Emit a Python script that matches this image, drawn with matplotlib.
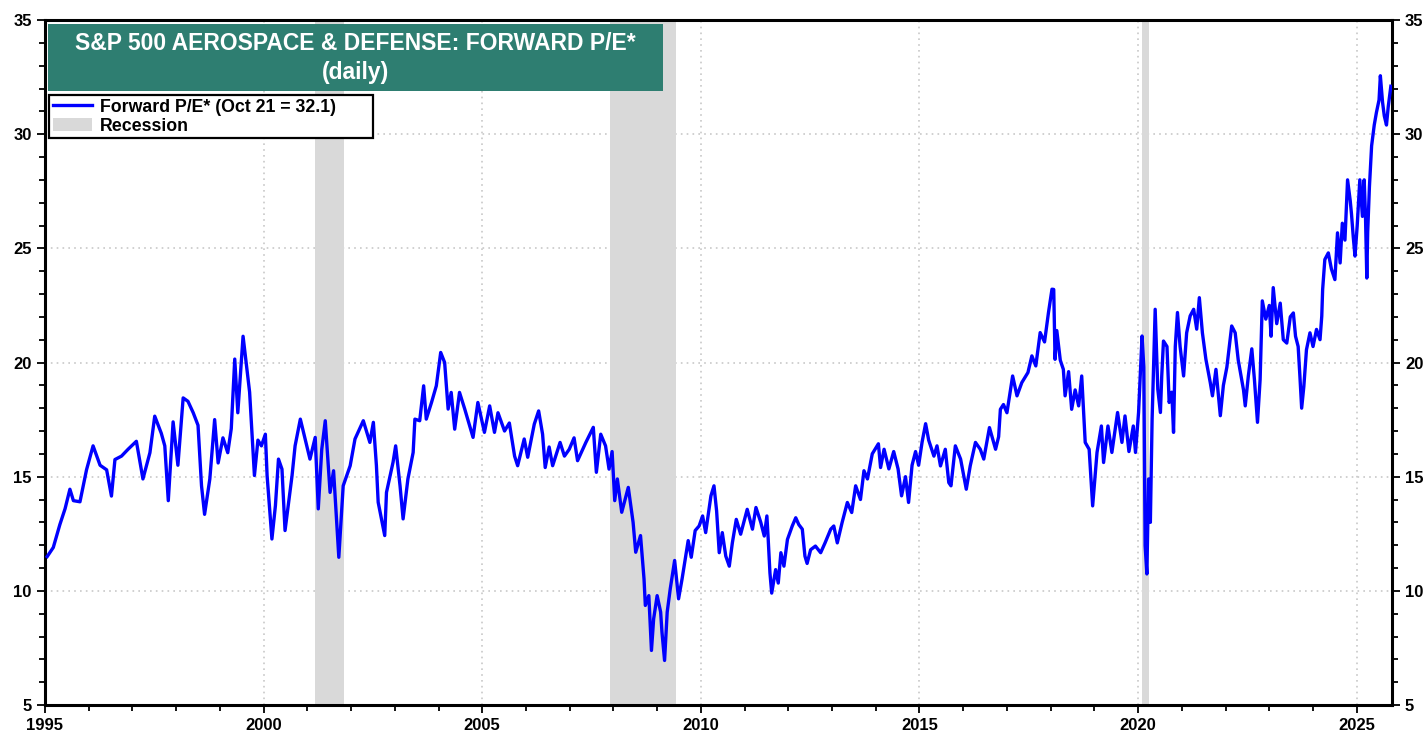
import matplotlib
matplotlib.use('Agg')
import matplotlib.pyplot as plt
from matplotlib.patches import Rectangle, Patch
from matplotlib.lines import Line2D
from matplotlib.ticker import MultipleLocator


plt.rcParams['font.family'] = ['Liberation Sans', 'DejaVu Sans']
plt.rcParams['font.weight'] = 'bold'

TITLE_LINE1 = 'S&P 500 AEROSPACE & DEFENSE: FORWARD P/E*'
TITLE_LINE2 = '(daily)'
LINE_LABEL = 'Forward P/E* (Oct 21 = 32.1)'
SHADE_LABEL = 'Recession'

# recession periods (decimal years)
REC_START = [2001.17, 2007.92, 2020.08]
REC_END = [2001.83, 2009.42, 2020.25]

# forward P/E readings (decimal year, value)
YEARS = [
    1995.05, 1995.19, 1995.34, 1995.46, 1995.57, 1995.65, 1995.80, 1995.95,
    1996.10, 1996.26, 1996.41, 1996.52, 1996.60, 1996.75, 1996.90, 1997.09,
    1997.24, 1997.40, 1997.51, 1997.66, 1997.74, 1997.82, 1997.93, 1998.04,
    1998.16, 1998.27, 1998.39, 1998.50, 1998.58, 1998.65, 1998.77, 1998.88,
    1998.96, 1999.07, 1999.18, 1999.26, 1999.34, 1999.41, 1999.53, 1999.60,
    1999.68, 1999.79, 1999.87, 1999.95, 2000.04, 2000.08, 2000.19, 2000.27,
    2000.34, 2000.42, 2000.49, 2000.65, 2000.72, 2000.84, 2000.95, 2001.06,
    2001.18, 2001.25, 2001.33, 2001.41, 2001.52, 2001.60, 2001.72, 2001.82,
    2001.98, 2002.09, 2002.28, 2002.43, 2002.51, 2002.58, 2002.62, 2002.77,
    2002.81, 2002.96, 2003.02, 2003.12, 2003.19, 2003.30, 2003.42, 2003.46,
    2003.57, 2003.66, 2003.72, 2003.84, 2003.95, 2004.05, 2004.14, 2004.22,
    2004.29, 2004.37, 2004.48, 2004.60, 2004.79, 2004.90, 2005.05, 2005.17,
    2005.28, 2005.36, 2005.51, 2005.62, 2005.74, 2005.81, 2005.96, 2006.04,
    2006.19, 2006.29, 2006.38, 2006.44, 2006.53, 2006.61, 2006.78, 2006.88,
    2006.99, 2007.10, 2007.18, 2007.37, 2007.54, 2007.61, 2007.71, 2007.82,
    2007.90, 2007.97, 2008.03, 2008.09, 2008.19, 2008.34, 2008.45, 2008.51,
    2008.62, 2008.70, 2008.73, 2008.81, 2008.87, 2008.92, 2009.00, 2009.08,
    2009.11, 2009.17, 2009.23, 2009.30, 2009.40, 2009.49, 2009.57, 2009.71,
    2009.78, 2009.87, 2009.96, 2010.04, 2010.11, 2010.23, 2010.30, 2010.36,
    2010.42, 2010.49, 2010.57, 2010.65, 2010.72, 2010.81, 2010.91, 2011.06,
    2011.18, 2011.26, 2011.37, 2011.45, 2011.51, 2011.54, 2011.58, 2011.62,
    2011.71, 2011.77, 2011.83, 2011.90, 2011.98, 2012.09, 2012.17, 2012.24,
    2012.32, 2012.38, 2012.43, 2012.51, 2012.62, 2012.74, 2012.84, 2012.97,
    2013.04, 2013.12, 2013.23, 2013.35, 2013.45, 2013.54, 2013.65, 2013.73,
    2013.81, 2013.92, 2014.06, 2014.11, 2014.19, 2014.30, 2014.41, 2014.51,
    2014.59, 2014.68, 2014.75, 2014.83, 2014.91, 2014.98, 2015.06, 2015.14,
    2015.21, 2015.33, 2015.40, 2015.48, 2015.59, 2015.67, 2015.72, 2015.82,
    2015.94, 2016.07, 2016.16, 2016.28, 2016.39, 2016.47, 2016.60, 2016.74,
    2016.81, 2016.85, 2016.92, 2017.00, 2017.13, 2017.23, 2017.34, 2017.48,
    2017.57, 2017.66, 2017.76, 2017.86, 2017.95, 2018.03, 2018.07, 2018.10,
    2018.14, 2018.22, 2018.29, 2018.33, 2018.41, 2018.48, 2018.56, 2018.64,
    2018.71, 2018.79, 2018.88, 2018.96, 2019.06, 2019.16, 2019.21, 2019.31,
    2019.40, 2019.53, 2019.63, 2019.70, 2019.79, 2019.89, 2019.94, 2020.01,
    2020.09, 2020.13, 2020.16, 2020.20, 2020.24, 2020.28, 2020.32, 2020.39,
    2020.45, 2020.51, 2020.54, 2020.58, 2020.66, 2020.71, 2020.77, 2020.81,
    2020.85, 2020.90, 2020.96, 2021.04, 2021.11, 2021.19, 2021.27, 2021.34,
    2021.40, 2021.47, 2021.55, 2021.65, 2021.70, 2021.78, 2021.88, 2021.95,
    2022.03, 2022.14, 2022.22, 2022.29, 2022.41, 2022.45, 2022.52, 2022.60,
    2022.66, 2022.73, 2022.79, 2022.84, 2022.92, 2023.00, 2023.04, 2023.09,
    2023.17, 2023.25, 2023.32, 2023.40, 2023.48, 2023.55, 2023.60, 2023.66,
    2023.70, 2023.74, 2023.79, 2023.85, 2023.93, 2024.00, 2024.08, 2024.16,
    2024.20, 2024.22, 2024.27, 2024.35, 2024.42, 2024.50, 2024.56, 2024.62,
    2024.67, 2024.73, 2024.79, 2024.85, 2024.88, 2024.92, 2024.96, 2025.01,
    2025.07, 2025.13, 2025.17, 2025.20, 2025.23, 2025.25, 2025.29, 2025.34,
    2025.40, 2025.45, 2025.51, 2025.54, 2025.59, 2025.63, 2025.68, 2025.72,
    2025.78,
]

PE = [
    11.5, 11.9, 12.9, 13.6, 14.45, 13.95, 13.9, 15.3,
    16.35, 15.5, 15.3, 14.15, 15.75, 15.9, 16.2, 16.55,
    14.9, 16.05, 17.65, 16.9, 16.35, 13.95, 17.4, 15.5,
    18.45, 18.3, 17.8, 17.25, 14.6, 13.35, 14.9, 17.5,
    15.6, 16.7, 16.05, 17.1, 20.15, 17.8, 21.15, 20.0,
    18.7, 15.05, 16.6, 16.35, 16.86, 15.04, 12.27, 13.73,
    15.77, 15.33, 12.64, 15.04, 16.35, 17.52, 16.65, 15.77,
    16.72, 13.59, 16.2, 17.45, 14.31, 15.26, 11.47, 14.6,
    15.48, 16.65, 17.45, 16.5, 17.38, 15.48, 13.88, 12.42,
    14.31, 15.63, 16.35, 14.6, 13.15, 14.9, 16.06, 17.52,
    17.45, 18.98, 17.52, 18.25, 18.98, 20.44, 20.0, 17.96,
    18.69, 17.08, 18.69, 17.96, 16.72, 18.25, 16.94, 18.1,
    16.94, 17.8, 17.0, 17.35, 15.9, 15.48, 16.65, 15.85,
    17.3, 17.88, 16.86, 15.4, 16.3, 15.48, 16.5, 15.9,
    16.2, 16.7, 15.7, 16.5, 17.16, 15.19, 16.86, 16.35,
    15.33, 16.1, 13.95, 14.9, 13.44, 14.53, 13.0, 11.69,
    12.42, 10.52, 9.36, 9.79, 7.39, 8.77, 9.79, 9.07,
    8.2, 6.95, 9.07, 10.09, 11.33, 9.65, 10.52, 12.2,
    11.47, 12.64, 12.84, 13.28, 12.55, 14.16, 14.6, 13.5,
    11.67, 12.55, 11.52, 11.08, 12.1, 13.13, 12.48, 13.57,
    12.7, 13.65, 13.0, 12.4, 13.28, 12.26, 10.78, 9.9,
    10.93, 10.34, 11.67, 11.08, 12.25, 12.84, 13.2, 12.9,
    12.7, 11.52, 11.2, 11.8, 11.96, 11.67, 12.1, 12.7,
    12.84, 12.1, 12.99, 13.87, 13.43, 14.6, 14.0, 15.26,
    14.9, 16.0, 16.44, 15.4, 16.2, 15.34, 16.1, 15.34,
    14.16, 15.0, 13.87, 15.5, 16.1, 15.5, 16.52, 17.32,
    16.6, 15.9, 16.35, 15.47, 16.2, 14.74, 14.6, 16.35,
    15.77, 14.45, 15.47, 16.5, 16.2, 15.77, 17.15, 16.2,
    16.75, 17.95, 18.16, 17.8, 19.41, 18.54, 19.12, 19.56,
    20.29, 19.85, 21.31, 20.9, 22.19, 23.21, 23.2, 20.14,
    21.4, 20.1, 19.7, 18.54, 19.6, 17.95, 18.8, 18.1,
    19.41, 16.5, 16.2, 13.72, 16.06, 17.22, 15.62, 17.22,
    16.06, 17.81, 16.5, 17.66, 16.1, 17.22, 16.06, 17.81,
    21.16, 19.8, 11.98, 10.74, 14.9, 13.0, 17.52, 22.33,
    18.83, 17.81, 19.4, 20.94, 20.7, 18.25, 18.7, 16.94,
    20.7, 22.19, 20.7, 19.41, 21.3, 22.04, 22.33, 21.46,
    22.84, 21.3, 20.14, 19.12, 18.54, 19.7, 17.67, 19.0,
    19.8, 21.6, 21.3, 20.1, 18.8, 18.1, 19.4, 20.6,
    19.25, 17.38, 19.25, 22.7, 21.9, 22.5, 21.15, 23.28,
    21.7, 22.6, 21.0, 20.85, 22.0, 22.17, 21.15, 20.7,
    19.4, 18.0, 18.95, 20.56, 21.3, 20.7, 21.45, 21.0,
    22.03, 23.2, 24.51, 24.8, 24.1, 23.63, 25.68, 24.36,
    26.1, 25.36, 28.0, 27.1, 26.5, 25.5, 24.66, 25.98,
    28.0, 26.4, 28.0, 26.4, 23.7, 25.7, 27.7, 29.49,
    30.4, 30.95, 31.5, 32.56, 31.4, 30.8, 30.4, 31.2,
    32.1,
]

LINE_COLOR = '#0000FF'
SHADE_COLOR = '#D9D9D9'
BOX_COLOR = '#2E7E71'


def style_axes(ax):
    ax.set_xlim(1995, 2025.8)
    ax.set_ylim(5, 35)
    ax.xaxis.set_major_locator(MultipleLocator(5))
    ax.xaxis.set_minor_locator(MultipleLocator(1))
    ax.yaxis.set_major_locator(MultipleLocator(5))
    ax.yaxis.set_minor_locator(MultipleLocator(1))
    ax.tick_params(which='both', direction='out', width=1.3, labelsize=12,
                   left=True, right=True, labelleft=True, labelright=True,
                   top=False, bottom=True)
    ax.tick_params(which='major', length=6)
    ax.tick_params(which='minor', length=4)
    for lbl in ax.get_xticklabels() + ax.get_yticklabels():
        lbl.set_fontweight('bold')
    for sp in ax.spines.values():
        sp.set_linewidth(2.2)
    ax.grid(True, which='major', color='#C8C8C8', linestyle=(0, (1, 2.5)), linewidth=1.2)
    ax.set_axisbelow(True)


def main():
    fig = plt.figure(figsize=(14.28, 7.33), dpi=100)
    ax = fig.add_axes([0.0315, 0.0382, 0.9431, 0.9345])

    for s, e in zip(REC_START, REC_END):
        ax.axvspan(s, e, color=SHADE_COLOR, lw=0, zorder=1)

    ax.plot(YEARS, PE, color=LINE_COLOR, lw=2.4, zorder=3)
    style_axes(ax)

    # title box
    ax.add_patch(Rectangle((0.0022, 0.897), 0.457, 0.097, transform=ax.transAxes,
                           facecolor=BOX_COLOR, edgecolor='none', zorder=5, clip_on=False))
    cx = 0.0022 + 0.457 / 2
    ax.text(cx, 0.966, TITLE_LINE1, transform=ax.transAxes, ha='center', va='center',
            color='white', fontsize=16.5, fontweight='bold', zorder=6)
    ax.text(cx, 0.923, TITLE_LINE2, transform=ax.transAxes, ha='center', va='center',
            color='white', fontsize=16.5, fontweight='bold', zorder=6)

    handles = [Line2D([], [], color=LINE_COLOR, lw=2.4),
               Patch(facecolor=SHADE_COLOR, edgecolor='none')]
    leg = ax.legend(handles, [LINE_LABEL, SHADE_LABEL], loc='upper left',
                    bbox_to_anchor=(0.0032, 0.8205, 0.2406, 0.07), mode='expand',
                    borderaxespad=0, fancybox=False, framealpha=1, edgecolor='black',
                    prop={'size': 12.8, 'weight': 'bold'},
                    handlelength=2.2, handletextpad=0.45, labelspacing=0.12,
                    borderpad=0.2)
    leg.get_frame().set_linewidth(1.6)
    leg.set_zorder(7)

    fig.savefig('out.png', dpi=100)


if __name__ == '__main__':
    main()
